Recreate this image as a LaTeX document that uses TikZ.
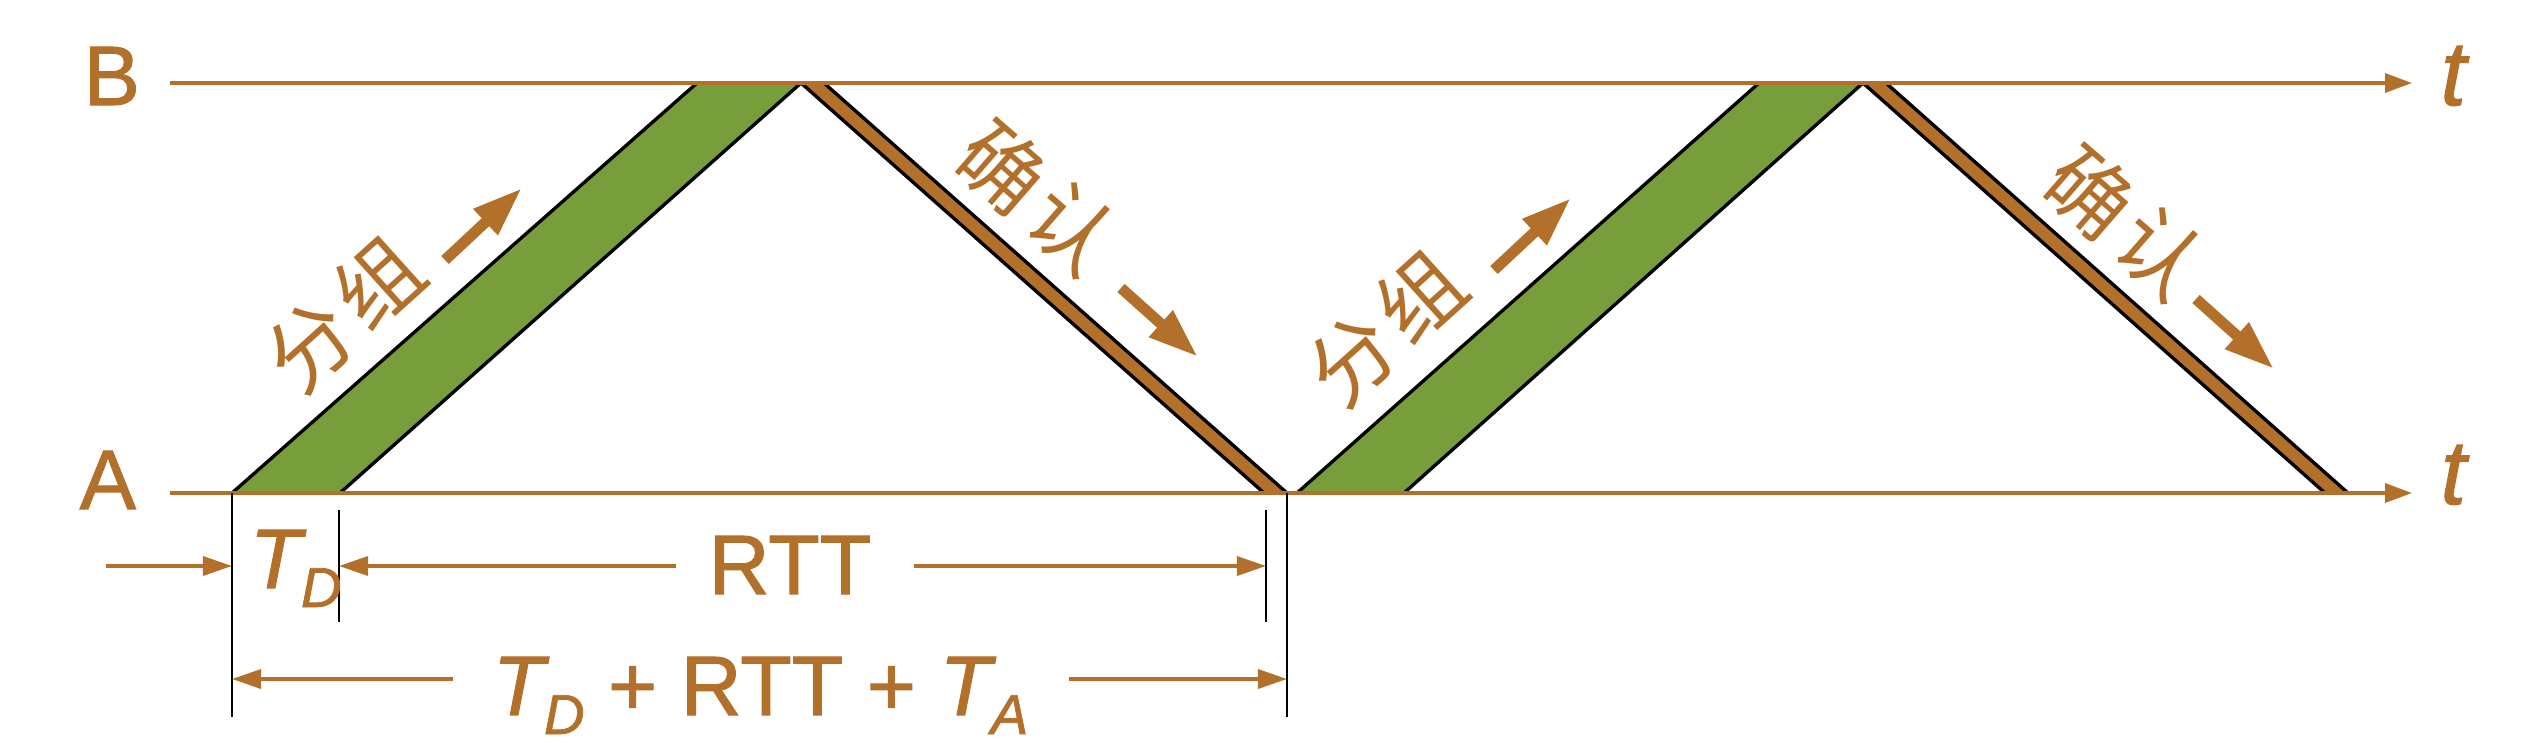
\documentclass[tikz,border=0pt]{standalone}
\usepackage{fontspec}
\setmainfont{Liberation Sans}[RawFeature={embolden=1.2}]
\newfontfamily\cjk{Noto Sans CJK SC}
\usepackage{tikz}
\usetikzlibrary{arrows.meta}
\definecolor{rttbrown}{HTML}{B2702A}
\definecolor{rttgreen}{HTML}{789E3B}
\tikzstyle{timeaxis}=[draw=rttbrown, line width=1pt, -{Triangle[length=0.27cm,width=0.19cm]}]
\tikzstyle{dimline}=[draw=rttbrown, line width=0.95pt, -{Triangle[length=0.29cm,width=0.19cm]}]
\tikzstyle{tickline}=[draw=black, line width=0.8pt]
\tikzstyle{edgeline}=[draw=black, line width=0.95pt]
\tikzstyle{movearrow}=[draw=rttbrown, line width=3.1pt, -{Triangle[length=0.5cm,width=0.33cm]}]
\tikzstyle{packet}=[fill=rttgreen]
\tikzstyle{ackfill}=[fill=rttbrown]
\tikzstyle{bigtext}=[text=rttbrown, inner sep=0pt, font=\fontsize{24}{24}\selectfont]
\tikzstyle{ttext}=[text=rttbrown, inner sep=0pt, font=\fontsize{26}{26}\selectfont\itshape]
\tikzstyle{cjktext}=[text=rttbrown, inner sep=0pt, font=\cjk\fontsize{24}{24}\selectfont]
\newcommand{\slantband}[5]{
	\fill[#1] #2 -- #3 -- #4 -- #5 -- cycle;
	\draw[edgeline] #2 -- #5;
	\draw[edgeline] #3 -- #4;
}
\newcommand{\Tsub}[1]{\textit{T}\kern-1.5pt\raisebox{-5.4pt}{\fontsize{16}{16}\selectfont\textit{#1}}}

\begin{document}
\begin{tikzpicture}[x=0.01cm,y=-0.01cm]
	\useasboundingbox (0,0) rectangle (2536,742);
	\slantband{packet}{(232,493)}{(340,493)}{(801,83)}{(697,83)}
	\slantband{ackfill}{(1264,493)}{(1287,493)}{(824,83)}{(801,83)}
	\slantband{packet}{(1297,493)}{(1404,493)}{(1863,83)}{(1759,83)}
	\slantband{ackfill}{(2325,493)}{(2348,493)}{(1886,83)}{(1863,83)}
	\coordinate (Bstart) at (170,83);
	\coordinate (Bend) at (2412,83);
	\coordinate (Astart) at (170,493);
	\coordinate (Aend) at (2412,493);
	\draw[timeaxis] (Bstart) -- (Bend);
	\draw[timeaxis] (Astart) -- (Aend);
	\node[bigtext, anchor=base west] (labB) at (83,105) {B};
	\node[bigtext, anchor=base west] (labA) at (79,509) {A};
	\node[ttext, anchor=base west] (tB) at (2440,105) {t};
	\node[ttext, anchor=base west] (tA) at (2440,504) {t};
	\coordinate (tk0a) at (232,493);
	\coordinate (tk0b) at (232,717);
	\coordinate (tk1a) at (339,510);
	\coordinate (tk1b) at (339,622);
	\coordinate (tk2a) at (1266,510);
	\coordinate (tk2b) at (1266,622);
	\coordinate (tk3a) at (1287,493);
	\coordinate (tk3b) at (1287,717);
	\draw[tickline] (tk0a) -- (tk0b);
	\draw[tickline] (tk1a) -- (tk1b);
	\draw[tickline] (tk2a) -- (tk2b);
	\draw[tickline] (tk3a) -- (tk3b);
	\node[bigtext, anchor=base west] (TD) at (249,588) {\Tsub{D}};
	\node[bigtext, anchor=base west] (RTT) at (708,594) {RTT};
	\node[bigtext, anchor=base west] (total) at (492,715) {\Tsub{D} + RTT + \Tsub{A}};
	\coordinate (in0) at (106,566);
	\coordinate (m0) at (232,566);
	\coordinate (r1) at (676,566);
	\coordinate (m1) at (339,566);
	\coordinate (r2) at (914,566);
	\coordinate (m2) at (1266,566);
	\coordinate (s1) at (453,679);
	\coordinate (n0) at (232,679);
	\coordinate (s2) at (1069,679);
	\coordinate (n3) at (1287,679);
	\draw[dimline] (in0) -- (m0);
	\draw[dimline] (r1) -- (m1);
	\draw[dimline] (r2) -- (m2);
	\draw[dimline] (s1) -- (n0);
	\draw[dimline] (s2) -- (n3);
	\node[cjktext, rotate=42] (pk1) at (344,314) {分\hspace{0.1em}组};
	\node[cjktext, rotate=-41] (ack1) at (1037,197) {确\hspace{0.1em}认};
	\node[cjktext, rotate=42] (pk2) at (1386,328) {分\hspace{0.1em}组};
	\node[cjktext, rotate=-41] (ack2) at (2125,222) {确\hspace{0.1em}认};
	\coordinate (pa1) at (445,260);
	\coordinate (pb1) at (522,188);
	\coordinate (aa1) at (1121,288);
	\coordinate (ab1) at (1198,357);
	\coordinate (pa2) at (1494,270);
	\coordinate (pb2) at (1571,198);
	\coordinate (aa2) at (2196,299);
	\coordinate (ab2) at (2274,369);
	\draw[movearrow] (pa1) -- (pb1);
	\draw[movearrow] (aa1) -- (ab1);
	\draw[movearrow] (pa2) -- (pb2);
	\draw[movearrow] (aa2) -- (ab2);
\end{tikzpicture}
\end{document}
